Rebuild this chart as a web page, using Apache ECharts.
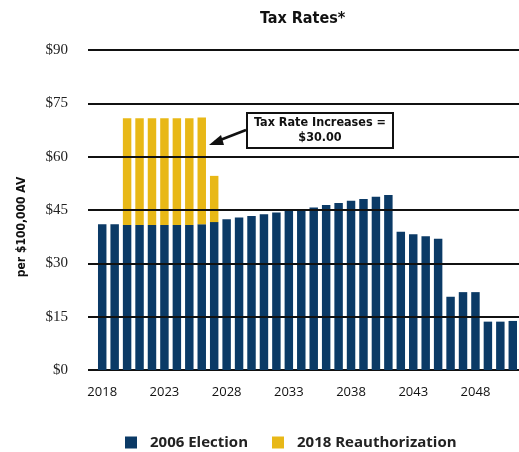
<!DOCTYPE html>
<html>
<head>
<meta charset="utf-8">
<script src="https://cdn.jsdelivr.net/npm/echarts@6/dist/echarts.min.js"></script>
<style>
  html, body { margin: 0; padding: 0; background: #fff; }
  #chart { width: 519px; height: 452px; }
</style>
</head>
<body>
<div id="chart"></div>
<script>
const years = []
for (let y = 2018; y <= 2051; y++) years.push(String(y))

const election2006 = [
  41.0, 41.0, 40.8, 40.8, 40.8, 40.8, 40.8, 40.8, 41.0, 41.6,
  42.4, 42.9, 43.3, 43.8, 44.3, 44.8, 45.1, 45.7, 46.4, 47.0,
  47.6, 48.1, 48.7, 49.2, 38.9, 38.2, 37.6, 36.9, 20.6, 21.9,
  21.9, 13.6, 13.6, 13.8,
]
const reauth2018 = [
  null, null, 30.0, 30.0, 30.0, 30.0, 30.0, 30.0, 30.0, 13.0,
  null, null, null, null, null, null, null, null, null, null,
  null, null, null, null, null, null, null, null, null, null,
  null, null, null, null,
]
const yTicks = [15, 30, 45, 60, 75, 90]

const navy = '#0b3a66'
const gold = '#e8b817'
const condFont = '"DejaVu Sans Condensed", Roboto, sans-serif'
const textFont = '"Open Sans", sans-serif'

const myChart = echarts.init(document.getElementById('chart'))

myChart.setOption({
  animation: false,
  title: {
    text: 'Tax Rates*',
    left: 255,
    top: 6,
    textStyle: { fontFamily: condFont, fontSize: 16, fontWeight: 'bold', color: '#111' },
  },
  legend: {
    top: 430,
    left: 120,
    itemWidth: 12,
    itemHeight: 12,
    itemGap: 24,
    icon: 'rect',
    textStyle: {
      fontFamily: textFont,
      fontSize: 15,
      fontWeight: 'bold',
      color: '#222',
      padding: [0, 0, 0, 8],
    },
    data: ['2006 Election', '2018 Reauthorization'],
  },
  grid: { left: 96, right: -2, top: 50, bottom: 82 },
  xAxis: {
    type: 'category',
    data: years,
    axisLine: { lineStyle: { color: '#111', width: 2 } },
    axisTick: { length: 3, interval: 0, lineStyle: { color: '#333' } },
    axisLabel: {
      interval: 4,
      margin: 16,
      color: '#111',
      fontFamily: textFont,
      fontSize: 13,
    },
  },
  yAxis: {
    type: 'value',
    min: 0,
    max: 90,
    interval: 15,
    axisLine: { show: false },
    axisTick: { show: true, length: 8, lineStyle: { color: '#111', width: 2 } },
    axisLabel: {
      margin: 28,
      color: '#222',
      fontFamily: '"Liberation Serif", "DejaVu Serif", serif',
      fontSize: 15,
      formatter: (v) => '$' + v,
    },
    splitLine: { show: false },
  },
  series: [
    {
      name: '2006 Election',
      type: 'bar',
      stack: 'rate',
      barWidth: '68%',
      itemStyle: { color: navy },
      data: election2006,
    },
    {
      name: '2018 Reauthorization',
      type: 'bar',
      stack: 'rate',
      barWidth: '68%',
      itemStyle: { color: gold },
      data: reauth2018,
      markLine: {
        silent: true,
        symbol: 'none',
        label: { show: false },
        lineStyle: { color: '#111', width: 2, type: 'solid' },
        data: yTicks.map((v) => ({ yAxis: v })),
      },
    },
  ],
  graphic: [
    {
      type: 'text',
      x: 22,
      y: 227,
      rotation: Math.PI / 2,
      style: {
        text: 'per $100,000 AV',
        fontFamily: condFont,
        fontSize: 12,
        fontWeight: 'bold',
        fill: '#111',
        align: 'center',
        verticalAlign: 'middle',
      },
    },
    {
      type: 'rect',
      shape: { x: 247, y: 113, width: 146, height: 35 },
      style: { fill: '#fff', stroke: '#111', lineWidth: 2 },
      z: 100,
    },
    {
      type: 'text',
      x: 320,
      y: 130.5,
      style: {
        text: 'Tax Rate Increases =\n$30.00',
        fontFamily: condFont,
        fontSize: 12.5,
        fontWeight: 'bold',
        fill: '#111',
        align: 'center',
        verticalAlign: 'middle',
        lineHeight: 15,
      },
      z: 101,
    },
    {
      type: 'line',
      shape: { x1: 246, y1: 130, x2: 215, y2: 142 },
      style: { stroke: '#111', lineWidth: 2.5 },
      z: 100,
    },
    {
      type: 'polygon',
      shape: { points: [[209, 145], [221, 135], [224, 145]] },
      style: { fill: '#111' },
      z: 100,
    },
  ],
})
</script>
</body>
</html>
